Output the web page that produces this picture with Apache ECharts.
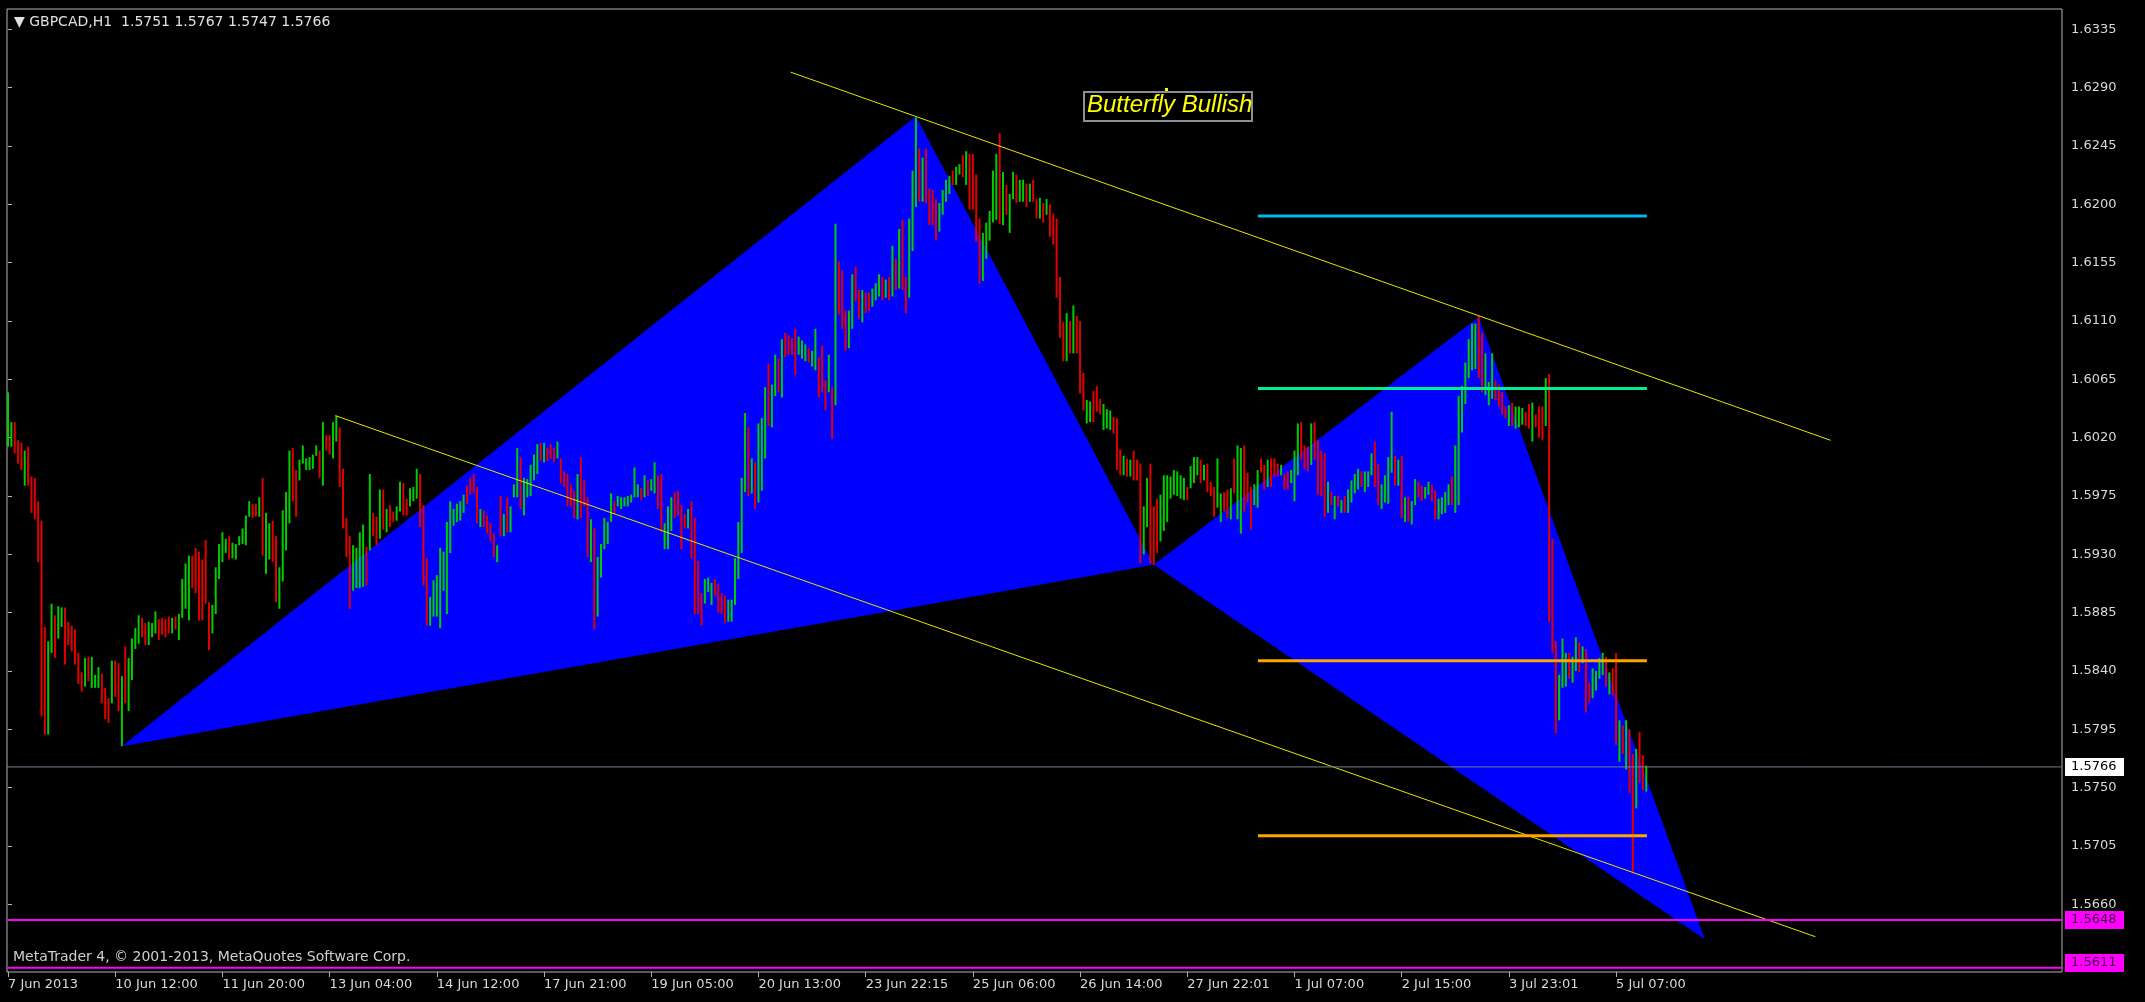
<!DOCTYPE html>
<html>
<head>
<meta charset="utf-8">
<title>GBPCAD,H1</title>
<script src="https://cdn.jsdelivr.net/npm/echarts@6.0.0/dist/echarts.min.js"></script>
<style>
  html, body { margin: 0; padding: 0; background: #000; }
  #chart { width: 2145px; height: 1002px; }
</style>
</head>
<body>
<div id="chart"></div>
<script>
// H1 bars, one entry per bar (index = bar number from the left edge)
const highs = [
  1.6055,1.6032,1.6032,1.6018,1.6016,1.6010,1.6013,1.5990,1.5989,1.5971,
  1.5956,1.5874,1.5863,1.5892,1.5883,1.5890,1.5889,1.5889,1.5878,1.5875,
  1.5872,1.5854,1.5839,1.5850,1.5851,1.5851,1.5837,1.5843,1.5838,1.5827,
  1.5819,1.5848,1.5848,1.5846,1.5836,1.5859,1.5850,1.5865,1.5873,1.5883,
  1.5881,1.5877,1.5878,1.5877,1.5886,1.5880,1.5881,1.5880,1.5882,1.5881,
  1.5882,1.5884,1.5911,1.5923,1.5929,1.5929,1.5935,1.5932,1.5926,1.5941,
  1.5893,1.5891,1.5920,1.5938,1.5947,1.5942,1.5944,1.5939,1.5938,1.5944,
  1.5950,1.5960,1.5971,1.5969,1.5969,1.5974,1.5989,1.5962,1.5954,1.5956,
  1.5944,1.5920,1.5964,1.5978,1.6010,1.6012,1.5995,1.6003,1.6014,1.6004,
  1.6005,1.6007,1.6014,1.6010,1.6032,1.6022,1.6022,1.6032,1.6037,1.6028,
  1.5996,1.5958,1.5944,1.5937,1.5935,1.5947,1.5953,1.5936,1.5992,1.5962,
  1.5959,1.5980,1.5980,1.5965,1.5968,1.5963,1.5967,1.5986,1.5985,1.5973,
  1.5981,1.5982,1.5996,1.5992,1.5968,1.5927,1.5897,1.5910,1.5914,1.5935,
  1.5932,1.5955,1.5971,1.5965,1.5969,1.5971,1.5976,1.5983,1.5989,1.5992,
  1.5982,1.5965,1.5964,1.5960,1.5954,1.5946,1.5937,1.5975,1.5961,1.5974,
  1.5967,1.5984,1.6012,1.6005,1.5989,1.5988,1.5999,1.6007,1.6015,1.6016,
  1.6016,1.6012,1.6015,1.6012,1.6017,1.6004,1.5994,1.5992,1.5984,1.5979,
  1.5992,1.6005,1.5987,1.5974,1.5957,1.5950,1.5928,1.5938,1.5958,1.5955,
  1.5977,1.5971,1.5975,1.5974,1.5974,1.5975,1.5976,1.5997,1.5984,1.5981,
  1.5991,1.5987,1.5988,1.6001,1.5991,1.5992,1.5954,1.5967,1.5974,1.5978,
  1.5979,1.5968,1.5961,1.5965,1.5971,1.5958,1.5925,1.5900,1.5911,1.5912,
  1.5908,1.5911,1.5907,1.5900,1.5898,1.5895,1.5895,1.5927,1.5955,1.5989,
  1.6039,1.6028,1.6004,1.6001,1.6031,1.6035,1.6059,1.6077,1.6061,1.6084,
  1.6081,1.6096,1.6101,1.6099,1.6097,1.6104,1.6098,1.6095,1.6092,1.6089,
  1.6087,1.6104,1.6082,1.6091,1.6064,1.6084,1.6059,1.6185,1.6156,1.6149,
  1.6118,1.6118,1.6146,1.6152,1.6134,1.6134,1.6132,1.6132,1.6135,1.6139,
  1.6146,1.6144,1.6142,1.6144,1.6168,1.6158,1.6181,1.6188,1.6144,1.6189,
  1.6226,1.6267,1.6243,1.6236,1.6243,1.6212,1.6211,1.6204,1.6201,1.6211,
  1.6219,1.6222,1.6226,1.6229,1.6231,1.6238,1.6241,1.6239,1.6239,1.6223,
  1.6189,1.6178,1.6186,1.6195,1.6226,1.6239,1.6255,1.6225,1.6215,1.6208,
  1.6225,1.6223,1.6219,1.6219,1.6216,1.6216,1.6219,1.6204,1.6205,1.6201,
  1.6204,1.6200,1.6193,1.6189,1.6144,1.6109,1.6116,1.6110,1.6122,1.6114,
  1.6110,1.6070,1.6049,1.6048,1.6056,1.6060,1.6050,1.6046,1.6042,1.6041,
  1.6036,1.6035,1.6011,1.6006,1.6004,1.6003,1.6010,1.6003,1.6000,1.5967,
  1.5989,1.6000,1.5967,1.5973,1.5976,1.5991,1.5991,1.5990,1.5995,1.5994,
  1.5991,1.5989,1.5982,1.5998,1.6005,1.6005,1.6003,1.5999,1.6000,1.5986,
  1.5982,1.6004,1.5977,1.5978,1.5980,1.5981,1.6004,1.6014,1.6012,1.6014,
  1.5993,1.5982,1.5984,1.5995,1.6004,1.5999,1.6003,1.6004,1.6004,1.6000,
  1.5999,1.5992,1.5994,1.5995,1.6010,1.6031,1.6032,1.6014,1.6013,1.6031,
  1.6032,1.6018,1.6010,1.6008,1.5986,1.5978,1.5975,1.5975,1.5972,1.5975,
  1.5980,1.5987,1.5992,1.5996,1.5994,1.5994,1.5994,1.6008,1.6017,1.6000,
  1.5984,1.5991,1.6005,1.6040,1.6006,1.6003,1.6006,1.5974,1.5974,1.5971,
  1.5988,1.5986,1.5983,1.5982,1.5986,1.5984,1.5979,1.5973,1.5974,1.5978,
  1.5984,1.5990,1.6014,1.6052,1.6060,1.6078,1.6096,1.6108,1.6108,1.6114,
  1.6101,1.6085,1.6063,1.6085,1.6064,1.6061,1.6055,1.6044,1.6045,1.6047,
  1.6044,1.6044,1.6043,1.6040,1.6046,1.6047,1.6038,1.6044,1.6044,1.6066,
  1.6069,1.5942,1.5863,1.5837,1.5865,1.5854,1.5854,1.5851,1.5866,1.5862,
  1.5859,1.5857,1.5831,1.5842,1.5840,1.5850,1.5854,1.5851,1.5839,1.5842,
  1.5854,1.5802,1.5798,1.5802,1.5795,1.5776,1.5780,1.5793,1.5775,1.5767
];
const lows = [
  1.6013,1.6013,1.6008,1.6000,1.5995,1.5983,1.5983,1.5962,1.5957,1.5924,
  1.5805,1.5791,1.5791,1.5854,1.5850,1.5865,1.5874,1.5845,1.5860,1.5855,
  1.5845,1.5830,1.5824,1.5828,1.5832,1.5827,1.5827,1.5827,1.5815,1.5803,
  1.5800,1.5815,1.5820,1.5809,1.5782,1.5815,1.5809,1.5833,1.5857,1.5861,
  1.5866,1.5860,1.5860,1.5866,1.5869,1.5864,1.5868,1.5866,1.5869,1.5869,
  1.5872,1.5864,1.5881,1.5888,1.5879,1.5904,1.5900,1.5879,1.5879,1.5892,
  1.5856,1.5869,1.5884,1.5911,1.5924,1.5931,1.5926,1.5927,1.5926,1.5937,
  1.5938,1.5937,1.5959,1.5958,1.5959,1.5959,1.5929,1.5915,1.5926,1.5924,
  1.5893,1.5888,1.5909,1.5933,1.5954,1.5971,1.5959,1.5987,1.6000,1.5995,
  1.5995,1.5996,1.6006,1.5989,1.5983,1.6010,1.6007,1.6004,1.6017,1.5982,
  1.5950,1.5928,1.5888,1.5902,1.5904,1.5904,1.5905,1.5906,1.5933,1.5944,
  1.5937,1.5942,1.5949,1.5947,1.5951,1.5955,1.5956,1.5963,1.5960,1.5960,
  1.5967,1.5971,1.5973,1.5951,1.5906,1.5875,1.5875,1.5882,1.5882,1.5873,
  1.5902,1.5884,1.5931,1.5952,1.5955,1.5956,1.5962,1.5969,1.5976,1.5977,
  1.5954,1.5951,1.5951,1.5946,1.5940,1.5928,1.5924,1.5944,1.5944,1.5947,
  1.5947,1.5974,1.5974,1.5965,1.5960,1.5974,1.5975,1.5987,1.5992,1.6002,
  1.6001,1.6002,1.6004,1.6001,1.6004,1.5985,1.5982,1.5967,1.5967,1.5958,
  1.5957,1.5958,1.5967,1.5928,1.5924,1.5872,1.5882,1.5912,1.5934,1.5938,
  1.5955,1.5961,1.5967,1.5965,1.5967,1.5967,1.5970,1.5974,1.5974,1.5972,
  1.5974,1.5975,1.5979,1.5977,1.5965,1.5947,1.5934,1.5934,1.5948,1.5958,
  1.5960,1.5934,1.5950,1.5950,1.5927,1.5884,1.5884,1.5875,1.5892,1.5901,
  1.5891,1.5898,1.5885,1.5884,1.5877,1.5878,1.5878,1.5891,1.5911,1.5931,
  1.5978,1.5975,1.5977,1.5965,1.5970,1.5979,1.6004,1.6029,1.6028,1.6052,
  1.6055,1.6051,1.6082,1.6084,1.6084,1.6068,1.6084,1.6081,1.6079,1.6078,
  1.6075,1.6072,1.6051,1.6055,1.6041,1.6055,1.6019,1.6045,1.6115,1.6104,
  1.6087,1.6089,1.6104,1.6125,1.6112,1.6109,1.6116,1.6118,1.6121,1.6126,
  1.6129,1.6126,1.6128,1.6126,1.6129,1.6134,1.6135,1.6134,1.6116,1.6128,
  1.6164,1.6198,1.6202,1.6202,1.6201,1.6184,1.6184,1.6172,1.6179,1.6192,
  1.6202,1.6208,1.6215,1.6215,1.6223,1.6221,1.6215,1.6196,1.6196,1.6171,
  1.6139,1.6141,1.6158,1.6172,1.6186,1.6188,1.6185,1.6184,1.6192,1.6178,
  1.6204,1.6201,1.6202,1.6202,1.6198,1.6202,1.6202,1.6189,1.6189,1.6186,
  1.6192,1.6175,1.6169,1.6128,1.6097,1.6079,1.6079,1.6085,1.6085,1.6085,
  1.6054,1.6041,1.6031,1.6032,1.6032,1.6040,1.6038,1.6026,1.6027,1.6026,
  1.6023,1.5995,1.5991,1.5991,1.5990,1.5990,1.5987,1.5987,1.5923,1.5930,
  1.5951,1.5923,1.5922,1.5931,1.5940,1.5948,1.5955,1.5973,1.5976,1.5975,
  1.5973,1.5972,1.5972,1.5981,1.5985,1.5991,1.5985,1.5987,1.5978,1.5975,
  1.5959,1.5966,1.5955,1.5963,1.5958,1.5957,1.5977,1.5957,1.5946,1.5963,
  1.5970,1.5949,1.5968,1.5966,1.5993,1.5980,1.5982,1.5982,1.5990,1.5990,
  1.5991,1.5980,1.5980,1.5985,1.5971,1.5991,1.6003,1.5996,1.5994,1.5999,
  1.6003,1.5976,1.5975,1.5959,1.5962,1.5968,1.5957,1.5967,1.5962,1.5962,
  1.5962,1.5970,1.5977,1.5980,1.5982,1.5978,1.5982,1.5991,1.5982,1.5968,
  1.5965,1.5970,1.5969,1.5993,1.5983,1.5983,1.5958,1.5955,1.5955,1.5953,
  1.5968,1.5974,1.5971,1.5973,1.5976,1.5971,1.5957,1.5957,1.5961,1.5962,
  1.5968,1.5968,1.5962,1.5968,1.6024,1.6046,1.6066,1.6072,1.6073,1.6066,
  1.6055,1.6053,1.6045,1.6050,1.6049,1.6044,1.6038,1.6035,1.6029,1.6029,
  1.6027,1.6028,1.6030,1.6029,1.6027,1.6017,1.6028,1.6020,1.6018,1.6029,
  1.5878,1.5854,1.5792,1.5802,1.5827,1.5828,1.5834,1.5831,1.5840,1.5839,
  1.5846,1.5808,1.5816,1.5819,1.5825,1.5834,1.5837,1.5828,1.5822,1.5821,
  1.5783,1.5770,1.5776,1.5764,1.5746,1.5685,1.5734,1.5754,1.5748,1.5747
];
// 1 = bull bar (green), 0 = bear bar (red)
const dirs = [
  1,1,0,0,0,1,0,0,0,0, 0,0,1,1,0,1,1,0,0,0, 0,0,0,1,0,1,1,1,0,0, 0,1,0,0,1,0,1,1,1,1,
  0,0,1,1,1,0,0,0,0,1, 0,1,1,1,1,0,0,0,0,0, 0,1,1,1,1,1,0,1,1,1, 1,1,1,0,0,1,0,1,1,0,
  0,1,1,1,1,0,0,1,1,1, 1,1,1,0,1,0,0,1,1,0, 0,0,0,1,1,1,1,0,1,0, 0,1,0,1,0,0,1,1,0,0,
  1,1,1,0,0,0,1,1,1,1, 1,1,1,1,1,1,1,0,0,0, 0,1,0,0,0,0,1,0,1,0, 1,1,1,0,1,1,1,1,1,0,
  1,0,0,0,1,0,0,0,0,0, 1,0,0,0,1,0,1,1,1,1, 1,0,1,1,1,1,1,1,1,0, 1,0,1,1,0,0,1,1,1,0,
  0,0,0,1,0,0,0,0,1,1, 1,0,0,0,0,1,1,1,1,1, 1,0,1,0,1,1,1,0,1,1, 0,1,0,0,0,0,1,1,1,0,
  1,1,0,0,0,1,0,1,0,0, 0,1,1,0,0,1,0,0,1,1, 1,0,1,0,1,0,1,0,0,1, 1,1,0,1,0,0,0,0,1,1,
  1,1,0,1,1,0,1,0,0,0, 0,1,1,1,1,1,0,1,0,1, 1,0,1,1,0,1,0,0,1,0, 1,0,0,0,0,0,1,0,1,0,
  0,0,1,1,0,0,0,1,1,1, 0,0,0,1,0,1,0,0,0,1, 1,0,0,0,1,1,1,1,1,1, 1,1,0,1,1,1,0,1,0,0,
  0,1,1,0,0,1,0,1,1,0, 0,0,1,1,0,0,1,0,0,0, 1,0,0,1,1,1,0,0,0,1, 0,0,0,0,1,0,1,0,1,0,
  1,1,1,1,0,1,1,1,0,0, 1,1,1,1,0,1,0,1,0,1, 1,0,0,1,1,0,0,1,1,1, 1,0,1,1,1,1,1,1,1,0,
  0,1,1,1,0,0,0,0,1,0, 1,1,1,0,0,1,0,0,0,1, 0,0,0,1,1,1,0,1,1,0, 1,0,0,1,1,1,1,0,1,0,
  0,1,0,1,0,0,1,0,0,1
];

// time scale labels, one every 32 bars
const timeTickBars = [0, 32, 64, 96, 128, 160, 192, 224, 256, 288, 320, 352, 384, 416, 448, 480];
const timeLabels = ['7 Jun 2013', '10 Jun 12:00', '11 Jun 20:00', '13 Jun 04:00', '14 Jun 12:00',
  '17 Jun 21:00', '19 Jun 05:00', '20 Jun 13:00', '23 Jun 22:15', '25 Jun 06:00', '26 Jun 14:00',
  '27 Jun 22:01', '1 Jul 07:00', '2 Jul 15:00', '3 Jul 23:01', '5 Jul 07:00'];
const priceTicks = [1.5660, 1.5705, 1.5750, 1.5795, 1.5840, 1.5885, 1.5930, 1.5975,
  1.6020, 1.6065, 1.6110, 1.6155, 1.6200, 1.6245, 1.6290, 1.6335];

// butterfly X, A, B, C, D
const patternBars = [34, 271, 342, 439, 506.5];
const patternPrices = [1.5782, 1.6268, 1.5922, 1.6113, 1.5633];
const patternTriangles = [[0, 1, 2], [2, 3, 4]];

// yellow trend lines [bar, price]
const trendUpper = [[233.6, 1.6302], [544.0, 1.6018]];
const trendLower = [[97.7, 1.6037], [539.5, 1.5635]];

// target levels
const levelBars = [373.1, 489.2];
const levelPrices = [1.6191, 1.6058, 1.5848, 1.5713];
const levelColors = ['#00b4ee', '#00f090', '#ffa500', '#ffa500'];

// full width horizontal lines: bid line and two magenta levels
const hLinePrices = [1.5766, 1.5648, 1.5611];
const hLineColors = ['#6f8090', '#ff00ff', '#ff00ff'];
const hLineWidths = [1, 2, 2];
const tagFills = ['#ffffff', '#ff00ff', '#ff00ff'];
const tagTexts = ['#000000', '#3a003a', '#3a003a'];

const X_MIN = -0.3, X_MAX = 613.1;
const Y_MIN = 1.56078, Y_MAX = 1.63507;
const UP = '#00cc00';
const DOWN = '#e00000';
const FONT = 'DejaVu Sans';

const chart = echarts.init(document.getElementById('chart'));

const barData = highs.map((h, i) => [i, h, lows[i], dirs[i]]);

const option = {
  backgroundColor: '#000',
  animation: false,
  textStyle: { fontFamily: FONT },
  grid: { left: 7, top: 9, right: 83, bottom: 30, show: true, borderColor: '#b4b4b4', borderWidth: 1 },
  xAxis: {
    type: 'value',
    min: X_MIN,
    max: X_MAX,
    axisLine: { show: false },
    splitLine: { show: false },
    axisTick: { customValues: timeTickBars, length: 5, lineStyle: { color: '#b4b4b4' } },
    axisLabel: {
      customValues: timeTickBars,
      formatter: v => timeLabels[timeTickBars.indexOf(Math.round(v))] || '',
      color: '#d8d8d8', fontFamily: FONT, fontSize: 13, align: 'left', margin: 6
    }
  },
  yAxis: {
    type: 'value',
    position: 'right',
    min: Y_MIN,
    max: Y_MAX,
    axisLine: { show: false },
    splitLine: { show: false },
    axisTick: { customValues: priceTicks, length: 4, lineStyle: { color: '#b4b4b4' } },
    axisLabel: {
      customValues: priceTicks,
      formatter: v => v.toFixed(4),
      color: '#d8d8d8', fontFamily: FONT, fontSize: 13, align: 'left', margin: 9
    }
  },
  series: [
    {
      type: 'custom',
      name: 'butterfly',
      silent: true,
      z: 1,
      data: patternTriangles.map(t => t.flatMap(k => [patternBars[k], patternPrices[k]])),
      encode: { x: [0, 2, 4], y: [1, 3, 5] },
      renderItem: (params, api) => {
        const pts = [0, 2, 4].map(j => api.coord([api.value(j), api.value(j + 1)]));
        return { type: 'polygon', shape: { points: pts }, style: { fill: '#0000ff' } };
      }
    },
    {
      type: 'custom',
      name: 'GBPCAD',
      silent: true,
      z: 2,
      data: barData,
      encode: { x: 0, y: [1, 2] },
      renderItem: (params, api) => {
        const top = api.coord([api.value(0), api.value(1)]);
        const bot = api.coord([api.value(0), api.value(2)]);
        return {
          type: 'rect',
          shape: { x: top[0] - 1, y: top[1], width: 2, height: Math.max(bot[1] - top[1], 1) },
          style: { fill: api.value(3) ? UP : DOWN }
        };
      }
    },
    {
      type: 'line', name: 'trend upper', silent: true, z: 3,
      data: trendUpper, symbol: 'none',
      lineStyle: { color: '#e6e600', width: 1 }
    },
    {
      type: 'line', name: 'trend lower', silent: true, z: 3,
      data: trendLower, symbol: 'none',
      lineStyle: { color: '#e6e600', width: 1 }
    },
    ...levelPrices.map((p, k) => ({
      type: 'line', name: 'level ' + k, silent: true, z: 4,
      data: levelBars.map(b => [b, p]), symbol: 'none',
      lineStyle: { color: levelColors[k], width: 3 }
    })),
    {
      // full width price lines with their tags on the price scale
      type: 'custom',
      name: 'price lines',
      silent: true,
      z: 5,
      clip: false,
      data: hLinePrices.map((p, k) => [X_MIN, p, k]),
      encode: { x: 0, y: 1 },
      renderItem: (params, api) => {
        const p = api.value(1);
        const k = api.value(2);
        const a = api.coord([X_MIN, p]);
        const b = api.coord([X_MAX, p]);
        const bottom = api.coord([X_MAX, Y_MIN])[1];
        const boxY = Math.min(a[1] - 9, bottom - 18);
        return {
          type: 'group',
          children: [
            {
              type: 'line',
              shape: { x1: a[0], y1: a[1], x2: b[0], y2: b[1] },
              style: { stroke: hLineColors[k], lineWidth: hLineWidths[k] }
            },
            {
              type: 'rect',
              shape: { x: b[0] + 3, y: boxY, width: 59, height: 18 },
              style: { fill: tagFills[k] }
            },
            {
              type: 'text',
              x: b[0] + 9, y: boxY + 9,
              style: {
                text: p.toFixed(4), fill: tagTexts[k], font: '13px "DejaVu Sans"',
                verticalAlign: 'middle', align: 'left'
              }
            }
          ]
        };
      }
    }
  ],
  graphic: [
    {
      type: 'text', left: 14, top: 15, z: 10,
      style: { text: '▼ GBPCAD,H1  1.5751 1.5767 1.5747 1.5766', fill: '#e0e0e0', font: '14px "DejaVu Sans"' }
    },
    {
      type: 'text', left: 13, top: 950, z: 10,
      style: { text: 'MetaTrader 4, © 2001-2013, MetaQuotes Software Corp.', fill: '#cfcfcf', font: '14px "DejaVu Sans"' }
    },
    {
      type: 'rect', z: 10,
      shape: { x: 1084, y: 92, width: 168, height: 29 },
      style: { fill: '#000', stroke: '#8a9099', lineWidth: 2 }
    },
    {
      type: 'text', left: 1087, top: 93, z: 11,
      style: { text: 'Butterfly Bullish', fill: '#ffff00', font: 'italic 24px "Liberation Sans"' }
    },
    {
      type: 'rect', z: 11,
      shape: { x: 1165, y: 88, width: 3, height: 3 },
      style: { fill: '#ffff00' }
    }
  ]
};

chart.setOption(option);
</script>
</body>
</html>
